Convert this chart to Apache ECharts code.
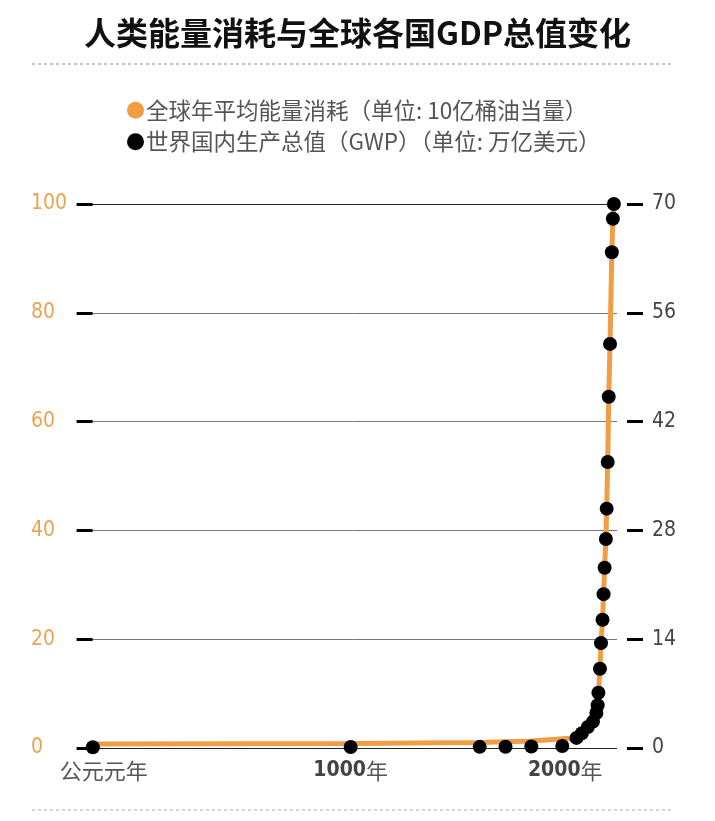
<!DOCTYPE html>
<html>
<head>
<meta charset="utf-8">
<script src="https://cdn.jsdelivr.net/npm/echarts@6/dist/echarts.min.js"></script>
<style>
  html, body { margin: 0; padding: 0; background: #fff; }
  #chart { width: 715px; height: 821px; }
</style>
</head>
<body>
<div id="chart"></div>
<script>
// GWP dots (trillion USD)
const gwpYears = [1, 1000, 1500, 1600, 1700, 1820, 1875, 1896, 1919, 1939, 1952, 1957, 1960, 1966, 1970, 1976, 1980, 1984, 1989, 1992, 1996, 2000, 2005, 2012, 2016, 2020];
const gwpValues = [0.1, 0.12, 0.15, 0.17, 0.2, 0.25, 1.3, 1.9, 2.7, 3.4, 4.5, 5.5, 7.1, 10.2, 13.5, 16.5, 19.8, 23.2, 26.9, 30.8, 36.8, 45.2, 52.0, 63.8, 68.1, 70.0];

// energy use (billion barrels of oil equivalent)
const energyYears = [1, 1000, 1500, 1700, 1850, 1875, 1896, 1919, 1939, 1952, 1957, 1960, 1966, 1970, 1976, 1980, 1984, 1989, 1992, 1996, 2000, 2005, 2012, 2016, 2020];
const energyValues = [0.75, 0.85, 1.0, 1.3, 1.8, 1.9, 2.8, 3.9, 4.8, 6.4, 7.9, 10.1, 14.5, 19.3, 23.5, 28.3, 33.1, 38.4, 43.9, 52.6, 64.5, 74.3, 91.2, 97.2, 100];

const xTickYears = [1, 1000, 2000];
const xTickLabels = ['公元元年', '1000年', '2000年'];

const energyName = '全球年平均能量消耗（单位: 10亿桶油当量）';
const gwpName = '世界国内生产总值（GWP）（单位: 万亿美元）';

const narrow = "'Liberation Sans Narrow', 'DejaVu Sans Condensed', Roboto, sans-serif";
const cjk = "'Noto Sans CJK SC', sans-serif";
const orange = '#f19d43';

const chart = echarts.init(document.getElementById('chart'));

chart.setOption({
  backgroundColor: '#fff',
  animation: false,
  title: {
    text: '人类能量消耗与全球各国GDP总值变化',
    left: 'center',
    top: 12,
    textStyle: { fontFamily: cjk, fontSize: 32, fontWeight: 'bold', color: '#111' }
  },
  legend: {
    orient: 'vertical',
    left: 122,
    top: 94,
    icon: 'circle',
    itemWidth: 17,
    itemHeight: 17,
    itemGap: 9,
    selectedMode: false,
    textStyle: { fontFamily: cjk, fontSize: 22.5, color: '#555', padding: [0, 0, 0, -3] },
    data: [energyName, gwpName]
  },
  graphic: [
    { type: 'line', shape: { x1: 32, y1: 64, x2: 673, y2: 64 }, style: { stroke: '#888', lineWidth: 1, lineDash: [3, 3] } },
    { type: 'line', shape: { x1: 32, y1: 810, x2: 673, y2: 810 }, style: { stroke: '#aaa', lineWidth: 1, lineDash: [3, 3] } }
  ],
  grid: { left: 90, right: 98, top: 204, bottom: 73 },
  xAxis: {
    type: 'value',
    min: -10,
    max: 2032,
    axisLine: { show: false },
    axisTick: { show: false },
    splitLine: { show: false },
    axisLabel: {
      customValues: xTickYears,
      margin: 12,
      formatter: (v) => {
        const i = xTickYears.indexOf(v);
        if (i === 0) return '{first|' + xTickLabels[0] + '}';
        const num = xTickLabels[i].replace('年', '');
        return i === 2 ? '{num|' + num + '}{last|年}' : '{num|' + num + '}{cn|年}';
      },
      rich: {
        first: { fontFamily: cjk, fontSize: 22, color: '#555', padding: [0, 0, 0, 22] },
        num: { fontFamily: narrow, fontSize: 21, fontWeight: 'bold', color: '#444' },
        cn: { fontFamily: cjk, fontSize: 22, color: '#555' },
        last: { fontFamily: cjk, fontSize: 22, color: '#555', padding: [0, 87, 0, 0] }
      }
    }
  },
  yAxis: [
    {
      type: 'value',
      min: 0,
      max: 100,
      interval: 20,
      offset: 10,
      axisLine: { show: false },
      axisTick: { show: true, length: 16, lineStyle: { color: '#000', width: 3 } },
      axisLabel: { align: 'left', margin: 49, color: '#eba352', fontFamily: narrow, fontSize: 21 },
      splitLine: {
        show: true,
        lineStyle: { color: ['#222', '#777', '#777', '#777', '#777', '#222'], width: 1 }
      }
    },
    {
      type: 'value',
      min: 0,
      max: 70,
      interval: 14,
      offset: 10,
      axisLine: { show: false },
      axisTick: { show: true, length: 16, lineStyle: { color: '#000', width: 3 } },
      axisLabel: { margin: 25, color: '#444', fontFamily: narrow, fontSize: 21 },
      splitLine: { show: false }
    }
  ],
  series: [
    {
      name: energyName,
      type: 'line',
      yAxisIndex: 0,
      data: energyYears.map((y, i) => [y, energyValues[i]]),
      showSymbol: false,
      lineStyle: { color: orange, width: 5 },
      itemStyle: { color: orange },
      z: 2
    },
    {
      name: gwpName,
      type: 'scatter',
      yAxisIndex: 1,
      data: gwpYears.map((y, i) => [y, gwpValues[i]]),
      symbolSize: 14,
      itemStyle: { color: '#000', opacity: 1 },
      z: 3
    }
  ]
});
</script>
</body>
</html>
